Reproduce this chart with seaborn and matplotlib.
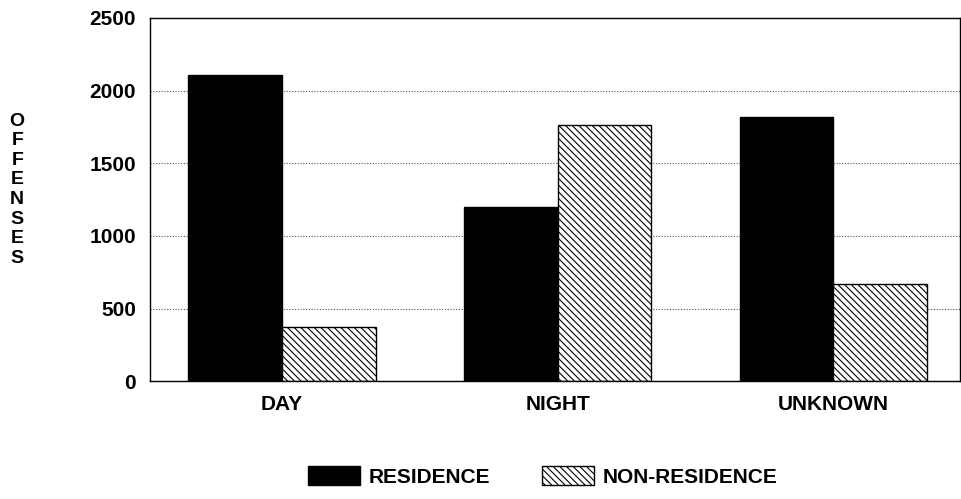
import pandas as pd
import matplotlib
matplotlib.use("Agg")
import matplotlib.pyplot as plt
import seaborn as sns
from matplotlib.patches import Patch

periods = ["DAY", "NIGHT", "UNKNOWN"]
residence = [2110, 1200, 1820]
non_residence = [375, 1760, 670]

df = pd.DataFrame({
    "period": periods * 2,
    "offenses": residence + non_residence,
    "type": ["RESIDENCE"] * 3 + ["NON-RESIDENCE"] * 3,
})

sns.set_style("white")
plt.rcParams["font.family"] = ["Liberation Sans", "DejaVu Sans"]
plt.rcParams["hatch.linewidth"] = 0.8
plt.rcParams["text.color"] = "black"
plt.rcParams["xtick.color"] = "black"
plt.rcParams["ytick.color"] = "black"

fig = plt.figure(figsize=(9.61, 4.99), dpi=100)
ax = fig.add_axes([0.156, 0.236, 0.843, 0.728])
sns.barplot(data=df, x="period", y="offenses", hue="type", ax=ax,
            palette=["black", "white"], width=0.68, edgecolor="black",
            linewidth=1, legend=False)
n = len(periods)
for p in ax.patches[n:2 * n]:
    p.set_hatch("\\\\\\\\\\")

ax.set_xlim(-0.48, 2.46)
ax.set_ylim(0, 2500)
ax.set_yticks(range(0, 2501, 500))
ax.yaxis.grid(True, linestyle=(0, (1, 1.5)), color="#555555", linewidth=0.8)
ax.set_axisbelow(True)
for s in ax.spines.values():
    s.set_color("black")
    s.set_linewidth(1)
ax.tick_params(axis="both", labelsize=15, length=0, pad=10)
for lab in ax.get_xticklabels() + ax.get_yticklabels():
    lab.set_fontweight("bold")
ax.set_xlabel("")
ax.set_ylabel("")
fig.text(0.018, 0.62, "\n".join("OFFENSES"), ha="center", va="center",
         fontsize=14, fontweight="bold", linespacing=1.2)

handles = [Patch(facecolor="black", edgecolor="black", label="RESIDENCE"),
           Patch(facecolor="white", edgecolor="black", hatch="\\\\\\\\\\",
                 label="NON-RESIDENCE")]
fig.legend(handles=handles, loc="center", bbox_to_anchor=(0.565, 0.045), ncol=2,
           frameon=False, prop={"size": 15, "weight": "bold"},
           handlelength=2.5, handleheight=1.0, handletextpad=0.4,
           columnspacing=2.5)
fig.savefig("out.png", dpi=100)
